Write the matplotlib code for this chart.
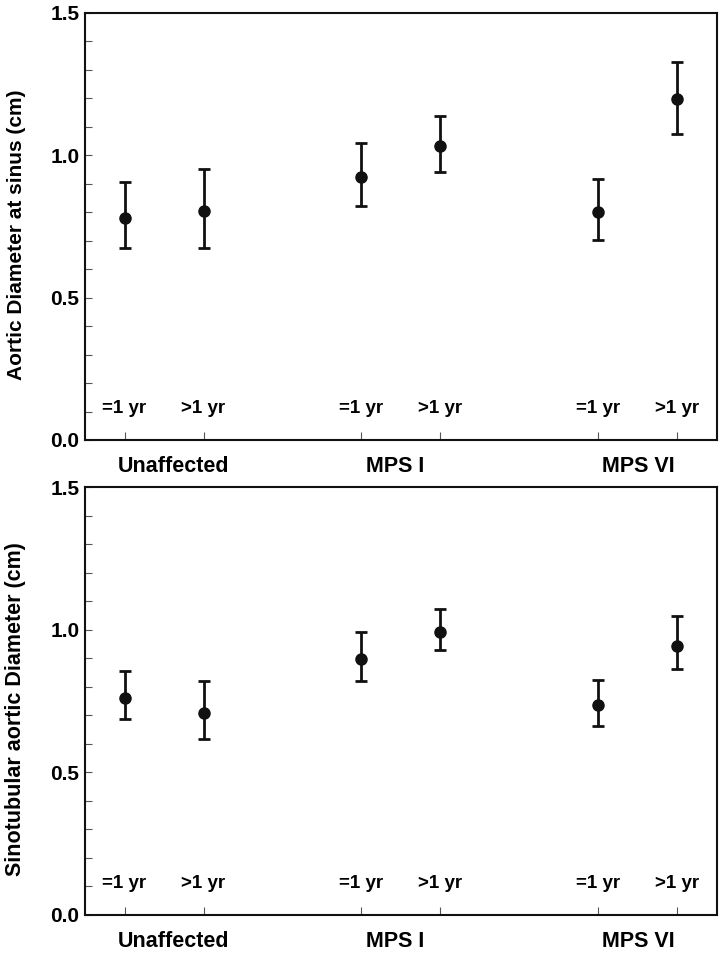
import matplotlib.pyplot as plt
from matplotlib.ticker import MultipleLocator

plt.rcParams['font.family'] = ['Liberation Sans', 'DejaVu Sans']
plt.rcParams['font.weight'] = 'bold'

positions = [1, 2, 4, 5, 7, 8]
age_labels = ['=1 yr', '>1 yr', '=1 yr', '>1 yr', '=1 yr', '>1 yr']
groups = ['Unaffected', 'MPS I', 'MPS VI']
group_pos = [1.62, 4.43, 7.5]

# aortic diameter at sinus (cm)
sinus_mean = [0.78, 0.805, 0.925, 1.033, 0.80, 1.197]
sinus_low = [0.674, 0.674, 0.822, 0.941, 0.702, 1.075]
sinus_high = [0.906, 0.952, 1.043, 1.138, 0.917, 1.328]

# sinotubular aortic diameter (cm)
stj_mean = [0.761, 0.709, 0.898, 0.993, 0.737, 0.944]
stj_low = [0.688, 0.618, 0.821, 0.930, 0.663, 0.863]
stj_high = [0.856, 0.821, 0.993, 1.074, 0.825, 1.049]

fig = plt.figure(figsize=(7.28, 9.6), dpi=100)
ax1 = fig.add_axes([0.1168, 0.5417, 0.868, 0.4448])
ax2 = fig.add_axes([0.1168, 0.0469, 0.868, 0.4458])

panels = [
    (ax1, sinus_mean, sinus_low, sinus_high, 'Aortic Diameter at sinus (cm)', 15),
    (ax2, stj_mean, stj_low, stj_high, 'Sinotubular aortic Diameter (cm)', 15.5),
]

for ax, mean, low, high, ylab, ysize in panels:
    err = [[m - l for m, l in zip(mean, low)], [h - m for m, h in zip(mean, high)]]
    ax.errorbar(positions, mean, yerr=err, fmt='o', color='#111111',
                ms=8, elinewidth=2, capsize=4.5, capthick=2)
    ax.set_xlim(0.5, 8.5)
    ax.set_ylim(0, 1.5)
    ax.yaxis.set_minor_locator(MultipleLocator(0.1))
    ax.set_yticks([0, 0.5, 1.0, 1.5])
    ax.set_yticklabels(['0.0', '0.5', '1.0', '1.5'], fontsize=15, fontweight='bold')
    ax.set_xticks(positions)
    ax.set_xticklabels([])
    ax.tick_params(axis='y', which='both', direction='in', length=5, width=0.8,
                   color='#555555', pad=4)
    ax.tick_params(axis='x', direction='in', length=6, width=0.8, color='#555555')
    for s in ax.spines.values():
        s.set_linewidth(1.5)
        s.set_color('#111111')
    for x, lab in zip(positions, age_labels):
        ax.text(x, 0.11, lab, ha='center', va='center', fontsize=13.5, fontweight='bold')
    for x, g in zip(group_pos, groups):
        ax.annotate(g, xy=(x, 0), xycoords=('data', 'axes fraction'),
                    xytext=(0, -19), textcoords='offset points',
                    ha='center', va='center', fontsize=15.5, fontweight='bold')
    ax.set_ylabel(ylab, fontsize=ysize, fontweight='bold')
    ax.yaxis.set_label_coords(-0.093, 0.48)

fig.savefig('out.png', dpi=100)
